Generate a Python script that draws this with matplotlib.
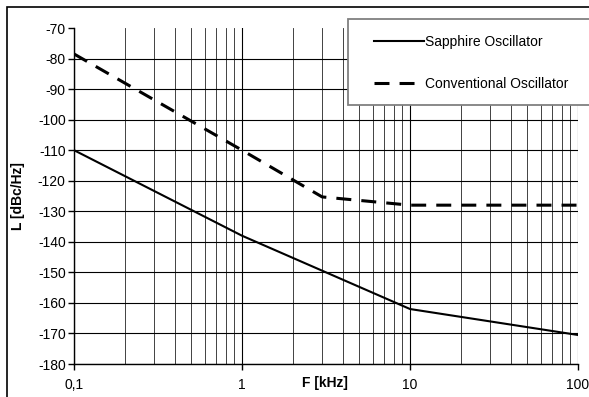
import matplotlib
matplotlib.use('Agg')
import matplotlib.pyplot as plt
from matplotlib.patches import Rectangle
from matplotlib.ticker import FixedLocator, NullFormatter

# data
freq_sapphire = [0.1, 1, 10, 100]
L_sapphire = [-110, -138, -162, -170.5]
freq_conv = [0.1, 1, 3, 10, 100]
L_conv = [-78.5, -110, -125.3, -128, -128]

x_ticks = [0.1, 1, 10, 100]
x_ticklabels = ['0,1', '1', '10', '100']
y_ticks = list(range(-180, -69, 10))

plt.rcParams['font.family'] = ['Liberation Sans', 'DejaVu Sans']
plt.rcParams['font.size'] = 10
plt.rcParams['axes.unicode_minus'] = False

W, H = 589, 397
fig = plt.figure(figsize=(W / 100, H / 100), dpi=100)
ax = fig.add_axes([74 / W, 1 - 364 / H, 504 / W, 336 / H])

ax.plot(freq_sapphire, L_sapphire, color='black', lw=1.5, solid_joinstyle='round',
        label='Sapphire Oscillator', zorder=3)
ln, = ax.plot(freq_conv, L_conv, color='black', lw=2.2, label='Conventional Oscillator', zorder=3)
ln.set_dashes((4.9, 3.3))

ax.set_xscale('log')
ax.set_xlim(0.1, 100)
ax.set_ylim(-180, -70)
ax.set_xticks(x_ticks)
ax.set_xticklabels(x_ticklabels)
minors = [m * d for d in (0.1, 1, 10) for m in range(2, 10)]
ax.xaxis.set_minor_locator(FixedLocator(minors))
ax.xaxis.set_minor_formatter(NullFormatter())
ax.set_yticks(y_ticks)

ax.grid(True, which='major', axis='both', color='black', lw=0.8)
ax.grid(True, which='minor', axis='x', color='#222222', lw=0.6)
ax.set_axisbelow(True)
# no horizontal line along the top of the plot area
ax.get_ygridlines()[-1].set_visible(False)

for s in ('top', 'right'):
    ax.spines[s].set_visible(False)
ax.spines['left'].set_linewidth(1.0)
ax.spines['bottom'].set_linewidth(1.0)
ax.tick_params(axis='both', which='major', length=4, width=1.0, direction='out', pad=2, colors='black')
ax.tick_params(axis='x', which='minor', length=0)
ax.tick_params(axis='x', which='major', pad=6)

ax.set_xlabel('F [kHz]', fontweight='bold', va='center')
ax.xaxis.set_label_coords(0.498, -0.056)
ax.set_ylabel('L [dBc/Hz]', fontweight='bold', va='center')
ax.yaxis.set_label_coords(-0.111, 0.5)

# outer chart border (left and top visible)
fig.add_artist(Rectangle((7 / W, -0.5), 2, 1.5 - 7 / H, transform=fig.transFigure,
                         facecolor='none', edgecolor='black', lw=1.2, zorder=1))
# legend box
fig.add_artist(Rectangle((348 / W, 1 - 105 / H), 0.5, 86 / H, transform=fig.transFigure,
                         facecolor='white', edgecolor='#808080', lw=1.3, zorder=4))
handles, labels = ax.get_legend_handles_labels()
leg = fig.legend(handles, labels, loc='upper left', bbox_to_anchor=(374 / W, 1 - 35 / H),
                 frameon=False, borderpad=0, borderaxespad=0, handlelength=3.6,
                 handletextpad=0.1, labelspacing=2.0, fontsize=10)
leg.set_zorder(6)

fig.savefig('out.png', dpi=100)
